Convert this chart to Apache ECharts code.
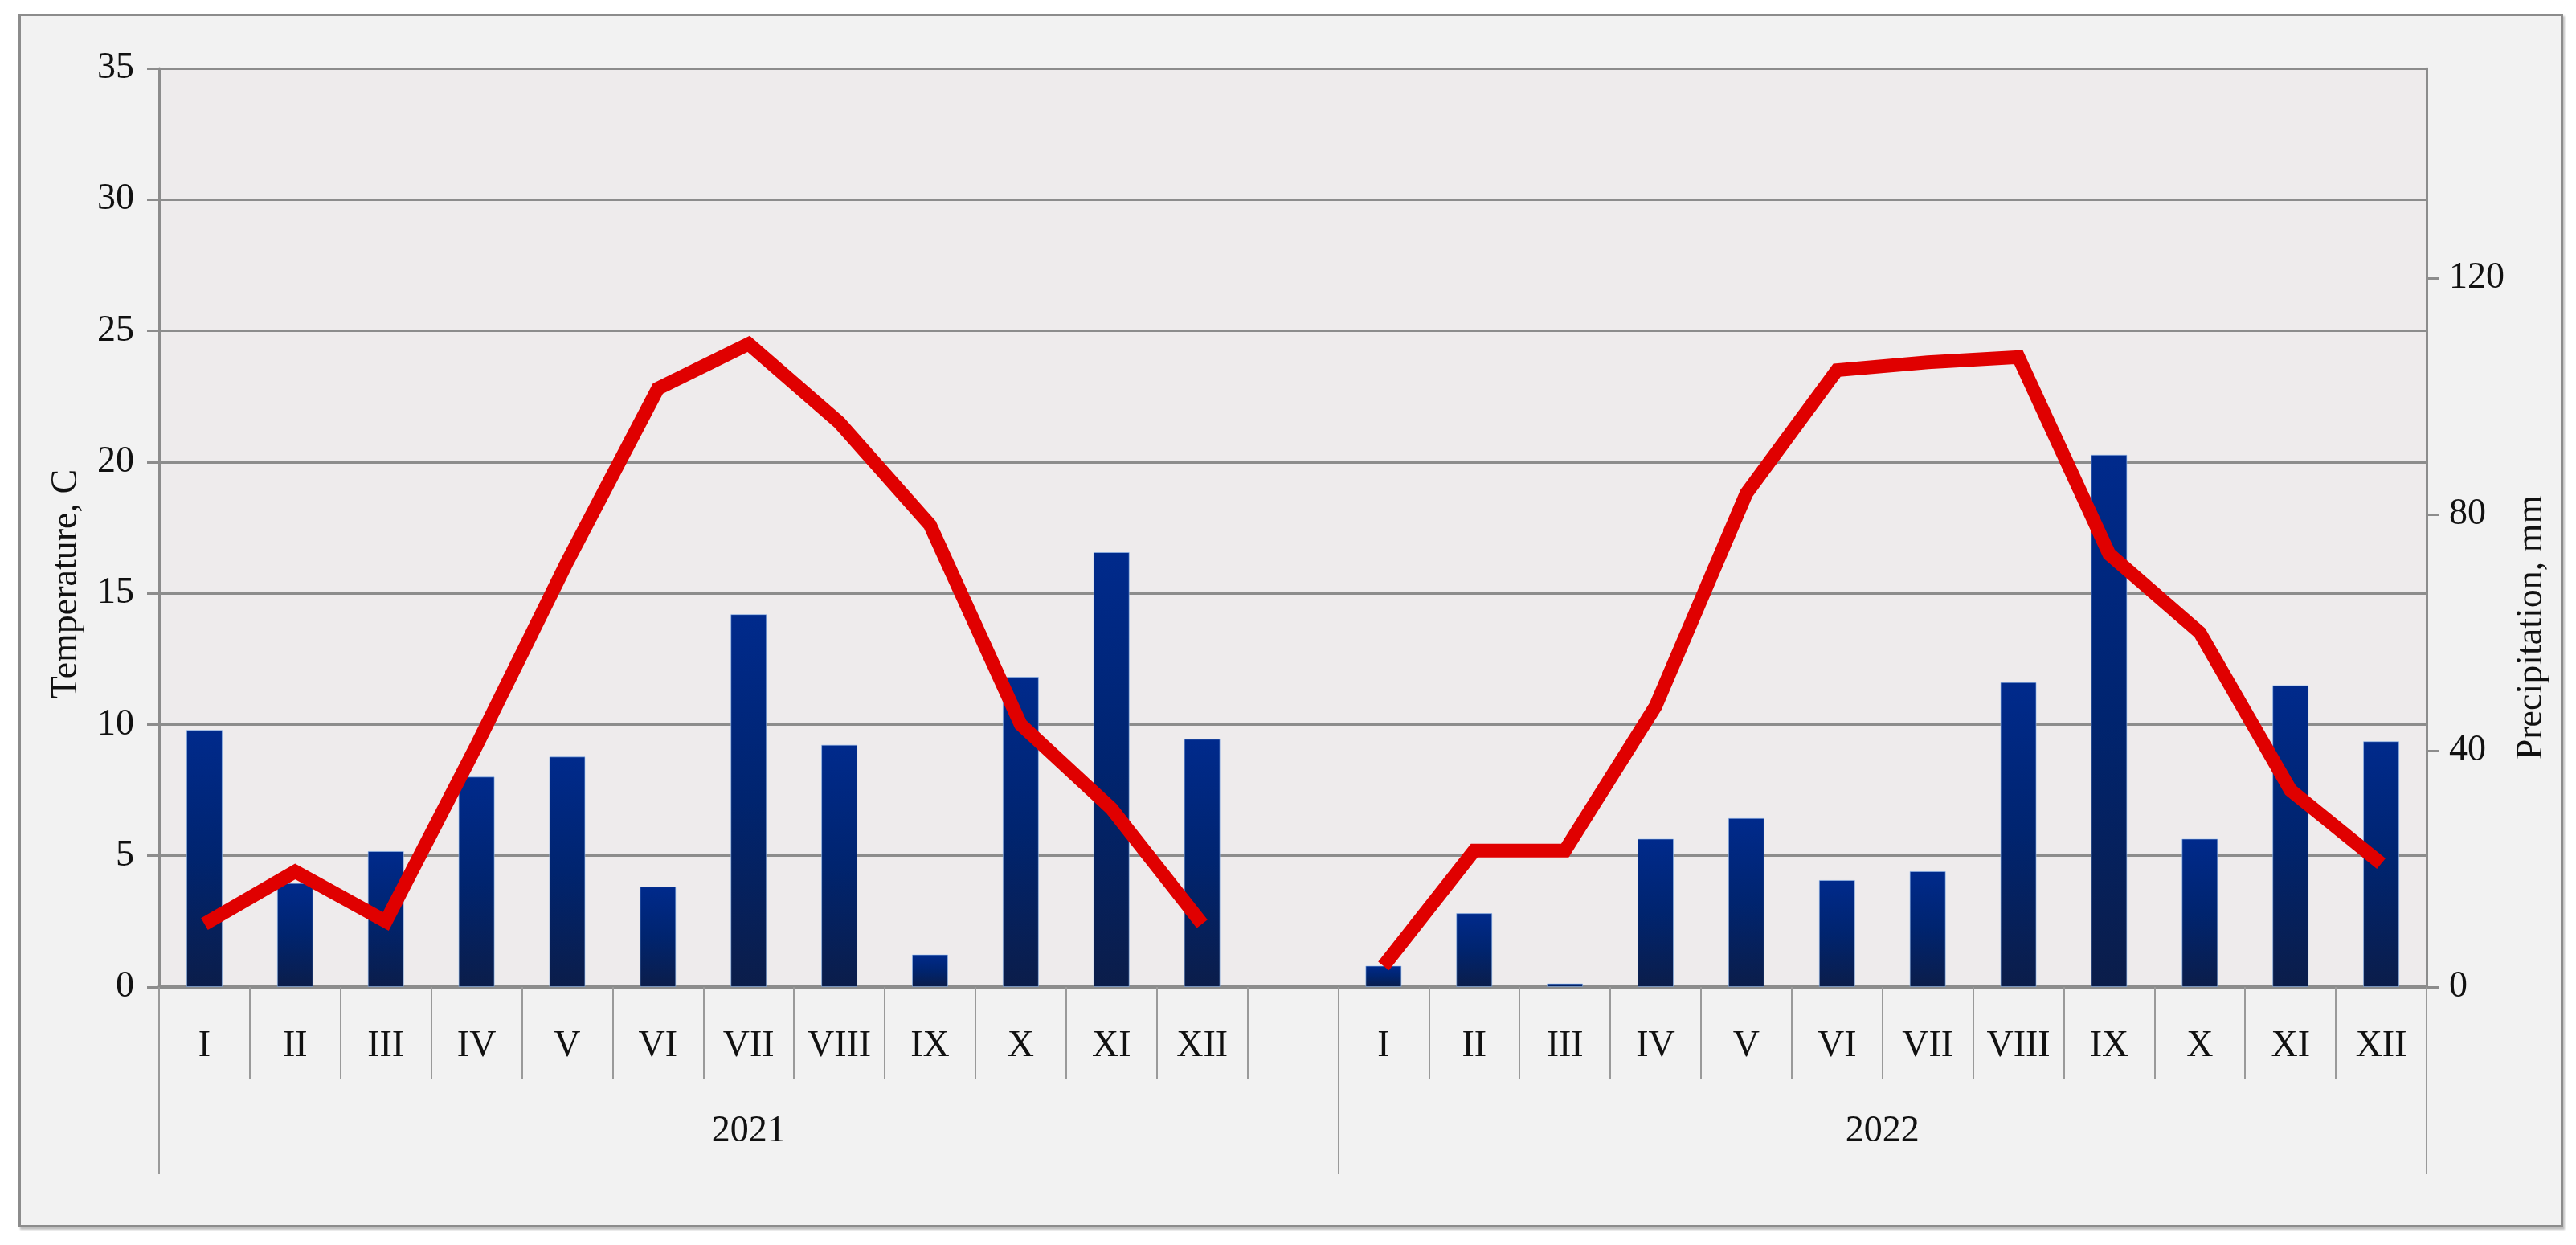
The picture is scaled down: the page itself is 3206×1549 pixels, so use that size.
<!DOCTYPE html>
<html>
<head>
<meta charset="utf-8">
<script src="https://cdn.jsdelivr.net/npm/echarts@6/dist/echarts.min.js"></script>
<style>
html,body{margin:0;padding:0;background:#ffffff;width:3206px;height:1549px;overflow:hidden;}
#frame{position:absolute;left:23px;top:17px;width:3161px;height:1504px;border:3px solid #8c8c8c;background:#f2f2f2;box-shadow:2px 3px 2px rgba(0,0,0,0.25);}
#chart{position:absolute;left:0;top:0;width:3206px;height:1549px;}
</style>
</head>
<body>
<div id="frame"></div>
<div id="chart"></div>
<script>
// ---- data ----
const months = ['I','II','III','IV','V','VI','VII','VIII','IX','X','XI','XII'];
const years = ['2021','2022'];
const temperature2021 = [2.4, 4.4, 2.5, 9.2, 16.2, 22.8, 24.5, 21.5, 17.6, 10.0, 6.8, 2.4];
const temperature2022 = [0.8, 5.2, 5.2, 10.7, 18.8, 23.5, 23.8, 24.0, 16.5, 13.5, 7.5, 4.7];
const precipitation2021 = [43.5, 17.6, 23.0, 35.6, 39.0, 17.0, 63.1, 41.0, 5.5, 52.5, 73.6, 42.0];
const precipitation2022 = [3.6, 12.5, 0.6, 25.1, 28.6, 18.1, 19.6, 51.6, 90.1, 25.1, 51.1, 41.6];
const temperatureTicks = {min: 0, max: 35, interval: 5};
const precipitationTicks = {min: 0, max: 155.5, interval: 40};

// ---- build ----
const categories = months.concat(['']).concat(months);
const precipitation = precipitation2021.concat([null]).concat(precipitation2022);
const temperature = temperature2021.concat([null]).concat(temperature2022);
const firstGroup = months.length + 1;
const yearBounds = [0, firstGroup, categories.length];
const yearCenters = [firstGroup / 2, (firstGroup + categories.length) / 2];

const FONT = 'Liberation Serif';
const gray = '#8c8c8c';
const chart = echarts.init(document.getElementById('chart'), null, {renderer: 'canvas'});

const option = {
  backgroundColor: 'transparent',
  animation: false,
  textStyle: {fontFamily: FONT},
  grid: {left: 198, right: 186, top: 85, bottom: 321, show: true, backgroundColor: '#eeebec', borderWidth: 0},
  xAxis: [
    {
      type: 'category', data: categories, position: 'bottom', boundaryGap: true,
      axisLine: {show: true, onZero: false, lineStyle: {color: gray, width: 4}},
      axisTick: {show: true, interval: 0, length: 115, lineStyle: {color: '#9a9a9a', width: 2}},
      axisLabel: {interval: 0, margin: 51, color: '#111', fontSize: 46, fontFamily: FONT},
      splitLine: {show: false}
    },
    {
      type: 'value', min: 0, max: categories.length, position: 'bottom',
      axisLine: {show: false}, splitLine: {show: false},
      axisTick: {show: true, customValues: yearBounds, length: 233, lineStyle: {color: '#9a9a9a', width: 2}},
      axisLabel: {
        customValues: yearCenters, margin: 157, color: '#111', fontSize: 46, fontFamily: FONT,
        formatter: function (v) { return v < firstGroup ? years[0] : years[1]; }
      }
    }
  ],
  yAxis: [
    {
      type: 'value', position: 'left',
      min: temperatureTicks.min, max: temperatureTicks.max, interval: temperatureTicks.interval,
      name: 'Temperature, C', nameLocation: 'middle', nameRotate: 90, nameGap: 92,
      nameTextStyle: {fontSize: 46, color: '#111', fontFamily: FONT, padding: [0, 140, 0, 0]},
      axisLine: {show: true, lineStyle: {color: gray, width: 3}},
      axisTick: {show: true, length: 15, lineStyle: {color: gray, width: 3}},
      axisLabel: {margin: 31, fontSize: 46, color: '#111', fontFamily: FONT},
      splitLine: {show: true, lineStyle: {color: gray, width: 3}}
    },
    {
      type: 'value', position: 'right',
      min: precipitationTicks.min, max: precipitationTicks.max, interval: precipitationTicks.interval,
      name: 'Precipitation, mm', nameLocation: 'middle', nameRotate: 90, nameGap: 103,
      nameTextStyle: {fontSize: 46, color: '#111', fontFamily: FONT, padding: [0, 248, 0, 0]},
      axisLine: {show: true, lineStyle: {color: gray, width: 3}},
      axisTick: {show: true, length: 15, lineStyle: {color: gray, width: 3}},
      axisLabel: {margin: 28, fontSize: 46, color: '#111', fontFamily: FONT, showMaxLabel: false},
      splitLine: {show: false}
    }
  ],
  series: [
    {
      name: 'Precipitation', type: 'bar', xAxisIndex: 0, yAxisIndex: 1, data: precipitation,
      barWidth: 45, z: 2,
      itemStyle: {
        color: new echarts.graphic.LinearGradient(0, 0, 0, 1, [
          {offset: 0, color: '#002a8c'},
          {offset: 0.5, color: '#00246f'},
          {offset: 1, color: '#0b1d4a'}
        ]),
        borderColor: 'rgba(150,190,240,0.6)', borderWidth: 1
      }
    },
    {
      name: 'Temperature', type: 'line', xAxisIndex: 0, yAxisIndex: 0, data: temperature,
      showSymbol: false, connectNulls: false, z: 5,
      lineStyle: {color: '#e00000', width: 17, join: 'miter', cap: 'butt'}
    }
  ]
};
chart.setOption(option);
</script>
</body>
</html>
